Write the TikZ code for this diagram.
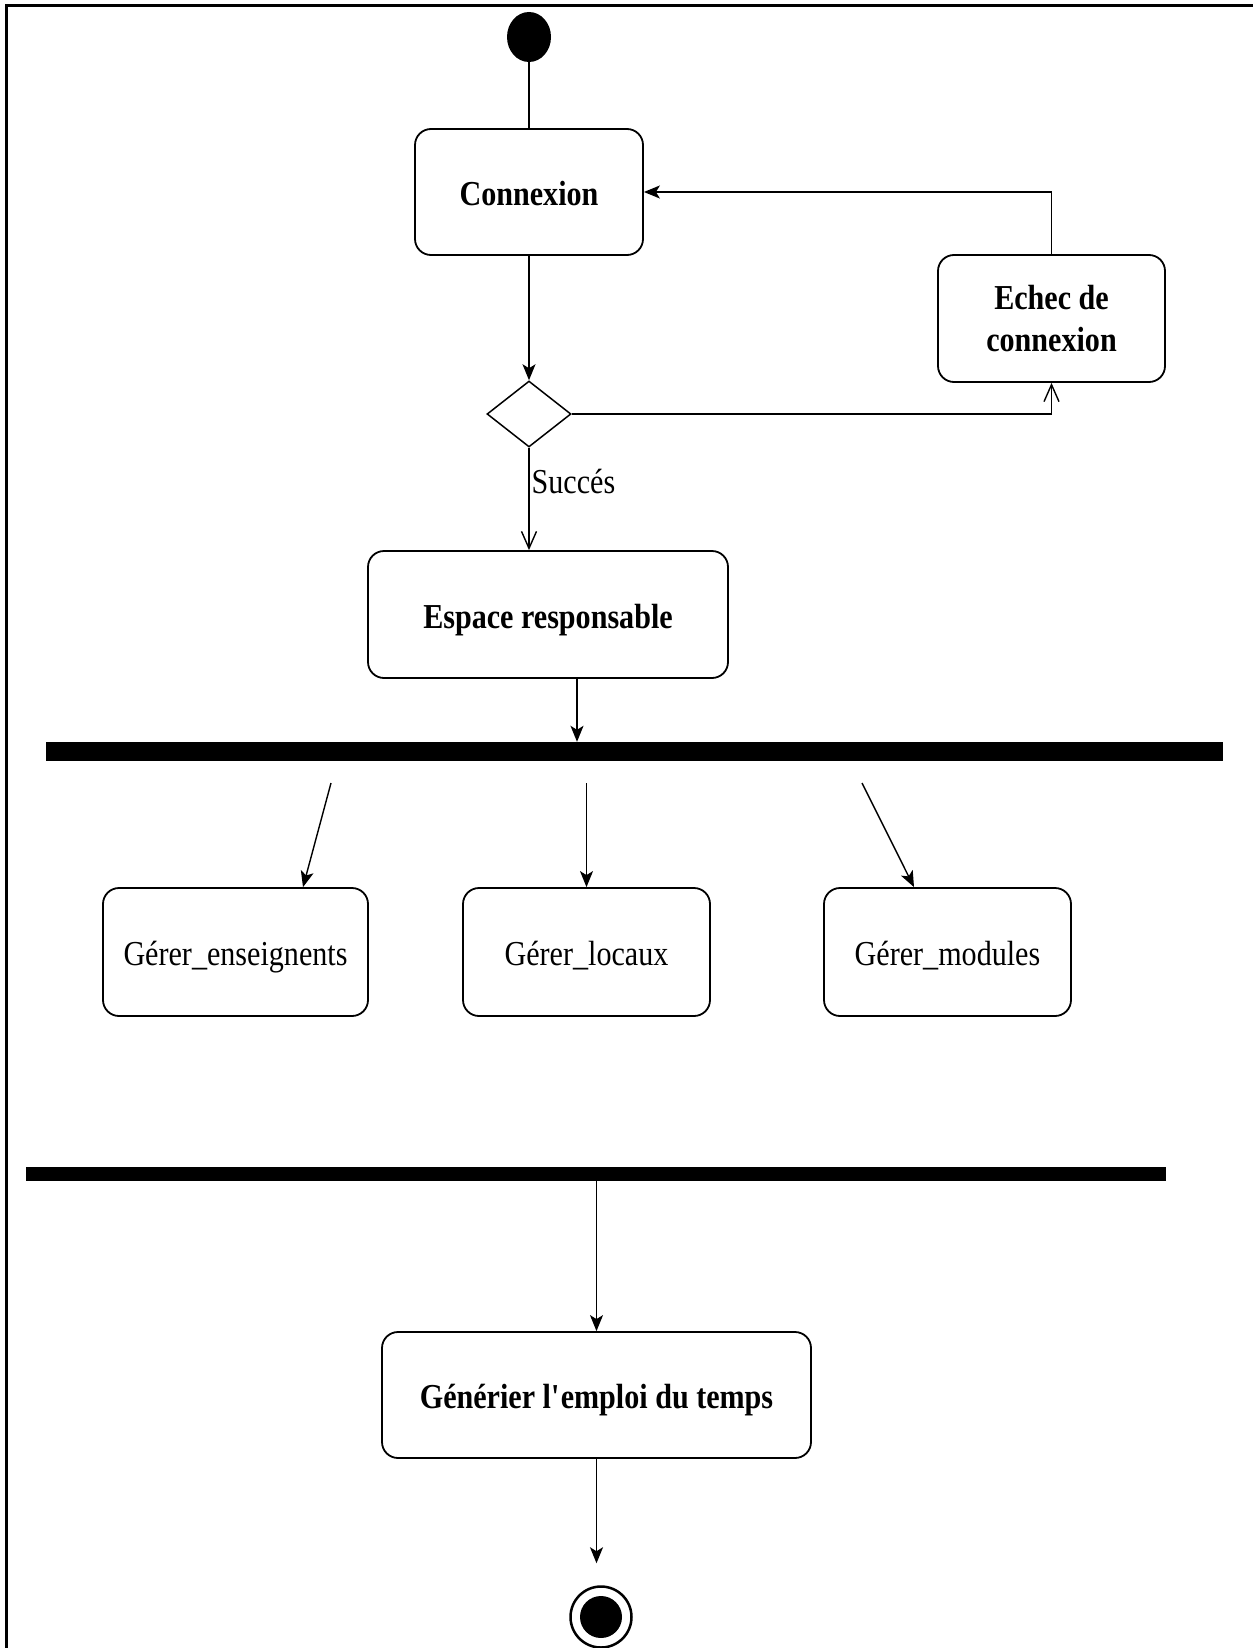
\documentclass[tikz,border=0pt]{standalone}
\usepackage{fontspec}
\setmainfont{Liberation Serif}[FakeStretch=0.86]
\usetikzlibrary{shapes.geometric,arrows.meta,calc}
% straight apostrophe, set as a glyph so the TeX quote mapping leaves it alone
\newcommand{\straightquote}{\XeTeXglyph\numexpr\XeTeXcharglyph"0027\relax}

\begin{document}
\begin{tikzpicture}[x=1pt,y=-1pt,
  every node/.style={font=\fontsize{35}{42}\selectfont},
  act/.style={draw, rounded corners=16pt, line width=1.8pt, inner sep=0pt, align=center},
  oneline/.style={text height=30pt, text depth=3pt},
  boldact/.style={act, font=\fontsize{35}{42}\selectfont\bfseries},
  syncbar/.style={fill=black, inner sep=0pt},
  flow/.style={line width=1.4pt},
  farrow/.style={flow, -{Stealth[length=16pt,width=13pt,inset=4pt]}},
  oarrow/.style={flow, -{Straight Barb[length=17pt,width=15pt]}},
]
\useasboundingbox (0,0) rectangle (1253,1648);

% frame
\draw[line width=3pt] (6,1648) -- (6,5.5) -- (1253,5.5);

% states
\node[ellipse, fill=black, minimum width=44pt, minimum height=50pt, inner sep=0pt] (init) at (529,37) {};
\node[boldact, oneline, minimum width=228pt, minimum height=126pt] (conn) at (529,192) {Connexion};
\node[diamond, draw, line width=1.5pt, minimum width=84pt, minimum height=66pt, inner sep=0pt] (dec) at (529,414) {};
\node[boldact, minimum width=227pt, minimum height=127pt] (echec) at (1051.5,318.5) {Echec de\\connexion};
\node[boldact, oneline, minimum width=360pt, minimum height=127pt] (esp) at (548,614.5) {Espace responsable};
\node[syncbar, minimum width=1177pt, minimum height=19pt] (fork) at (634.5,751.5) {};
\node[act, oneline, minimum width=265pt, minimum height=128pt] (ens) at (235.5,952) {Gérer\_enseignents};
\node[act, oneline, minimum width=247pt, minimum height=128pt] (loc) at (586.5,952) {Gérer\_locaux};
\node[act, oneline, minimum width=247pt, minimum height=128pt] (mod) at (947.5,952) {Gérer\_modules};
\node[syncbar, minimum width=1140pt, minimum height=14pt] (join) at (596,1174) {};
\node[boldact, oneline, minimum width=429pt, minimum height=126pt] (gen) at (596.5,1395) {Générier l\straightquote emploi du temps};
\node[circle, draw, line width=2.5pt, minimum size=61pt, inner sep=0pt,
      path picture={\fill[black] (path picture bounding box.center) circle[radius=21pt];}] (fin) at (601,1617) {};

% transitions
\draw[flow] (init) -- (conn);
\draw[farrow] (conn) -- (dec);
\draw[oarrow] (dec.east) -| (echec.south);
\draw[farrow] (echec.north) |- (conn.east);
\draw[oarrow] (dec.south) -- (dec.south |- esp.north)
  node[pos=0.33, anchor=west, inner sep=2pt] {Succés};
\coordinate (espout) at ([xshift=29pt]esp.south);
\draw[farrow] (espout) -- (espout |- fork.north);

\coordinate (b1) at (331,783);
\coordinate (b2) at (586.5,783);
\coordinate (b3) at (862,783);
\draw[farrow] (b1) -- ([xshift=67.5pt]ens.north);
\draw[farrow] (b2) -- (loc.north);
\draw[farrow] (b3) -- ([xshift=-33.5pt]mod.north);

\draw[farrow] (join.south -| gen.north) -- (gen.north);
\draw[farrow, shorten >=22pt] (gen.south) -- (gen.south |- fin.north);
\end{tikzpicture}
\end{document}
